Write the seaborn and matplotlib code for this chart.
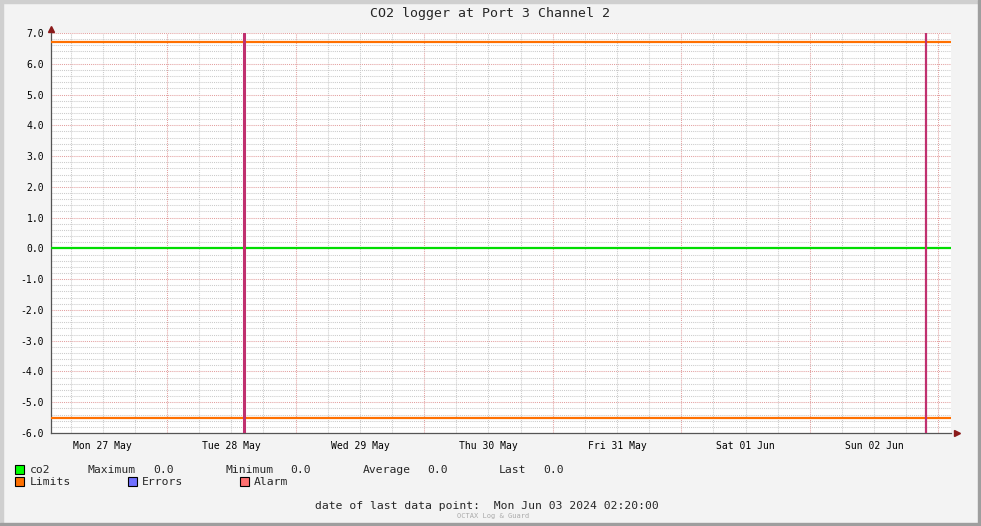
import matplotlib
matplotlib.use("Agg")
import matplotlib.pyplot as plt
import matplotlib.dates as mdates
from matplotlib.patches import Rectangle
import numpy as np
import pandas as pd
import seaborn as sns

# data
t_start = "2024-05-27 02:20"
t_end = "2024-06-03 02:20"
co2_times = [t_start, t_end]
co2_values = [0.0, 0.0]
limit_high = [6.7, 6.7]
limit_low = [-5.5, -5.5]
event_times = ["2024-05-28 14:20", "2024-06-02 21:40"]
legend_stats = [("Maximum", "0.0"), ("Minimum", "0.0"), ("Average", "0.0"), ("Last", "0.0")]
last_point = "Mon Jun 03 2024 02:20:00"

df = pd.DataFrame({
    "time": pd.to_datetime(co2_times),
    "co2": co2_values,
    "hi": limit_high,
    "lo": limit_low,
})

sns.set_style("white")
plt.rcParams["font.family"] = ["DejaVu Sans Mono"]

W, H = 981, 526
fig = plt.figure(figsize=(W / 100, H / 100), dpi=100)
fig.patch.set_facecolor("#f3f3f3")
# rrdtool-style frame
fig.patches.append(Rectangle((0, 1 - 3 / H), 1, 3 / H, transform=fig.transFigure, color="#cfcfcf"))
fig.patches.append(Rectangle((0, 0), 3 / W, 1, transform=fig.transFigure, color="#cfcfcf"))
fig.patches.append(Rectangle((1 - 3 / W, 0), 3 / W, 1, transform=fig.transFigure, color="#9e9e9e"))
fig.patches.append(Rectangle((0, 0), 1, 3 / H, transform=fig.transFigure, color="#9e9e9e"))

x0, x1, ytop, ybot = 51, 951, 33, 433
ax = fig.add_axes([x0 / W, 1 - ybot / H, (x1 - x0) / W, (ybot - ytop) / H])
ax.set_facecolor("white")

# grid
ax.set_ylim(-6.0, 7.0)
ax.set_xlim(pd.Timestamp(t_start), pd.Timestamp(t_end))
ax.yaxis.set_major_locator(plt.MultipleLocator(1.0))
ax.yaxis.set_minor_locator(plt.MultipleLocator(0.2))
ax.yaxis.set_major_formatter(plt.FormatStrFormatter("%.1f"))
ax.xaxis.set_major_locator(mdates.DayLocator())
ax.xaxis.set_major_formatter(plt.NullFormatter())
ax.xaxis.set_minor_locator(mdates.HourLocator(byhour=[0, 6, 12, 18]))


def noon_label(v, pos):
    d = mdates.num2date(v)
    return d.strftime("%a %d %b") if d.hour == 12 else ""


ax.xaxis.set_minor_formatter(plt.FuncFormatter(noon_label))
ax.grid(which="minor", color="#cbcbcb", linestyle=(0, (1, 1)), linewidth=0.75)
ax.grid(which="major", color="#e3a0a0", linestyle=(0, (1, 1)), linewidth=0.75)
ax.set_axisbelow(True)

ax.tick_params(axis="both", which="both", labelsize=7, colors="#555555", labelcolor="black")
ax.tick_params(axis="x", which="major", length=3, direction="out", color="#e39a9a")
ax.tick_params(axis="x", which="minor", length=2, direction="out", pad=4)
ax.tick_params(axis="y", which="major", length=2, direction="out", pad=3)
ax.tick_params(axis="y", which="minor", length=0)

for s in ["top", "right"]:
    ax.spines[s].set_visible(False)
for s in ["left", "bottom"]:
    ax.spines[s].set_color("#555555")
    ax.spines[s].set_linewidth(0.9)

# series
sns.lineplot(data=df, x="time", y="hi", ax=ax, color="#ff7000", linewidth=1.6, zorder=3)
sns.lineplot(data=df, x="time", y="lo", ax=ax, color="#ff7000", linewidth=1.6, zorder=3)
sns.lineplot(data=df, x="time", y="co2", ax=ax, color="#00dd00", linewidth=1.6, zorder=3)
for i, t in enumerate(event_times):
    ax.axvline(pd.Timestamp(t), color="#c0306f", linewidth=2.2 if i == 0 else 1.6, zorder=4)
ax.set_xlabel("")
ax.set_ylabel("")

# axis arrows
ax.plot([0], [1.0 + 4 / 400], marker="^", color="#8b1a1a", markersize=4, transform=ax.transAxes, clip_on=False)
ax.plot([1.0 + 6 / 900], [0], marker=">", color="#8b1a1a", markersize=4, transform=ax.transAxes, clip_on=False)

fig.text(0.5, 1 - 13 / H, "CO2 logger at Port 3 Channel 2", ha="center", va="center", fontsize=9.5)


def px(x, y):
    return x / W, 1 - y / H


def swatch(x, y, color):
    fig.patches.append(Rectangle(px(x, y + 5), 9 / W, 9 / H, transform=fig.transFigure,
                                 facecolor=color, edgecolor="black", linewidth=0.8))


fs = 8.2
swatch(15, 469, "#00ff00")
fig.text(*px(30, 470), "co2", fontsize=fs, va="center")
stat_x = [(88, 153), (225, 290), (363, 427), (499, 543)]
for (name, val), (xn, xv) in zip(legend_stats, stat_x):
    fig.text(*px(xn, 470), name, fontsize=fs, va="center")
    fig.text(*px(xv, 470), val, fontsize=fs, va="center")

swatch(15, 481, "#ff7000")
fig.text(*px(30, 482), "Limits", fontsize=fs, va="center")
swatch(128, 481, "#7070ff")
fig.text(*px(142, 482), "Errors", fontsize=fs, va="center")
swatch(240, 481, "#ff7070")
fig.text(*px(254, 482), "Alarm", fontsize=fs, va="center")

fig.text(*px(315, 506), "date of last data point:  " + last_point, fontsize=fs, va="center")
fig.text(*px(493, 516), "OCTAX Log & Guard", fontsize=5, va="center", ha="center", color="#aaaaaa")

fig.savefig("out.png", dpi=100, facecolor=fig.get_facecolor())
